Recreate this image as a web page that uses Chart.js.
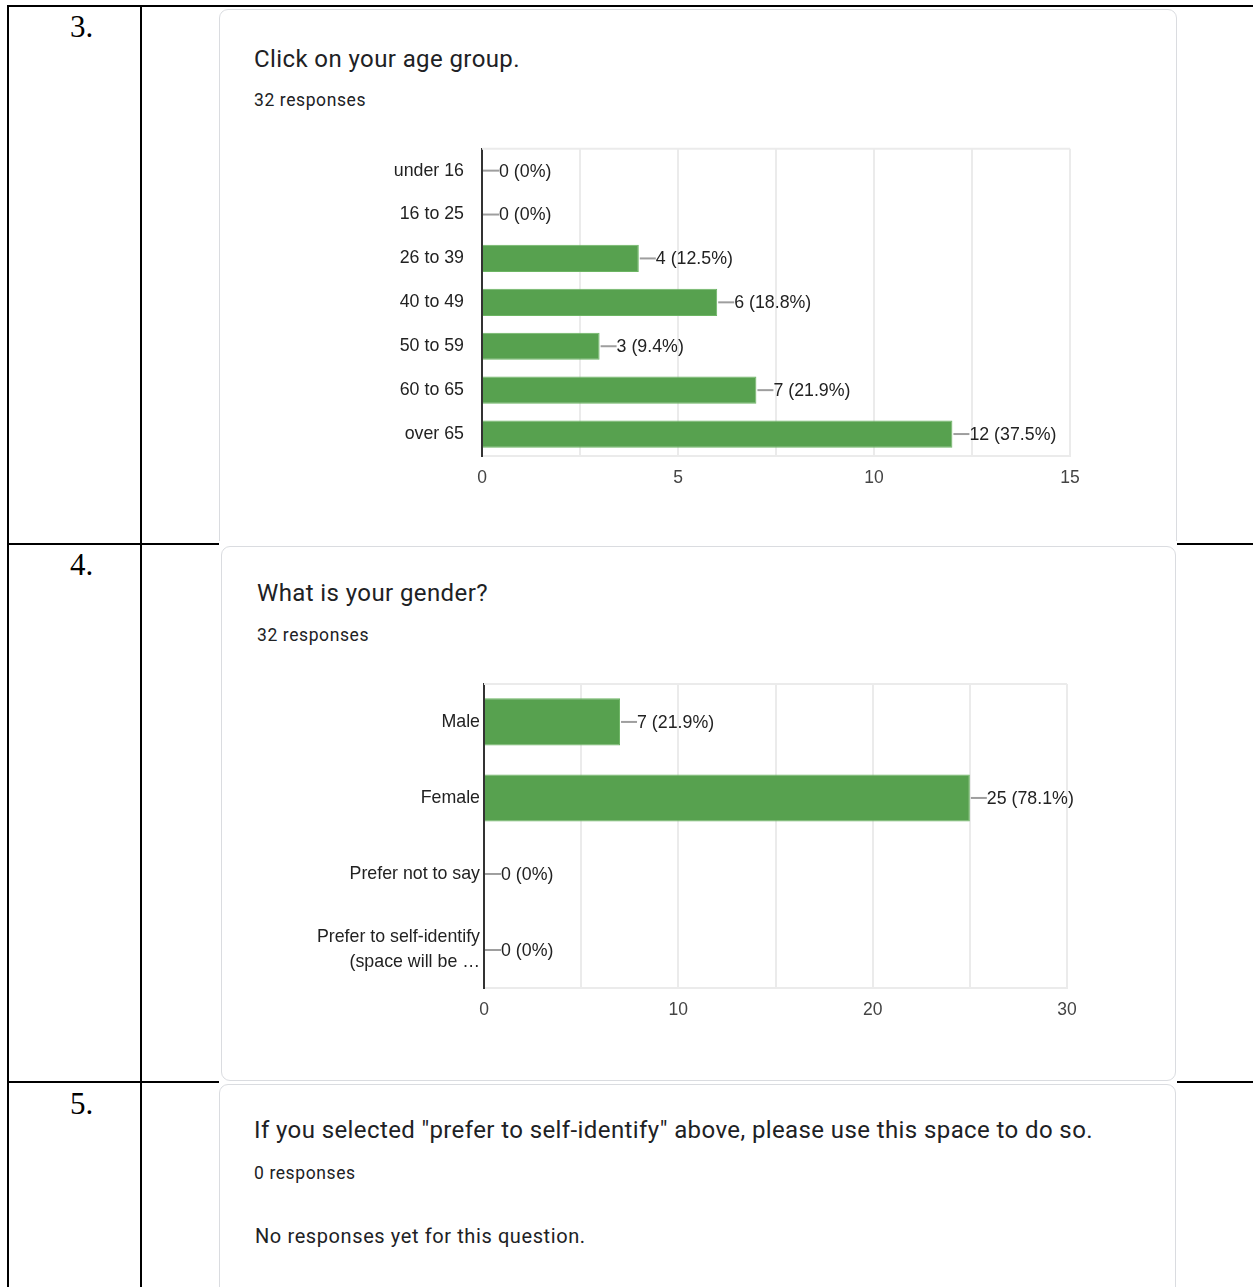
<!DOCTYPE html>
<html>
<head>
<meta charset="utf-8">
<script src="https://cdn.jsdelivr.net/npm/chart.js@4.4.1/dist/chart.umd.min.js"></script>
<style>
  html, body { margin: 0; padding: 0; background: #fff; }
  body { width: 1253px; height: 1287px; position: relative; overflow: hidden; font-family: Roboto, "Liberation Sans", Arial, sans-serif; }
  .rule { position: absolute; background: #000; }
  .num { position: absolute; font-family: "Liberation Serif", "Times New Roman", serif; font-size: 31px; line-height: 36px; color: #000; }
  .cover { position: absolute; background: #fff; overflow: hidden; }
  .card { position: absolute; border: 1px solid #dadce0; border-radius: 9px; background: #fff; box-sizing: border-box; }
  .title { position: absolute; font-size: 24px; line-height: 30px; color: #202124; white-space: nowrap; letter-spacing: 0.4px; }
  .resp { position: absolute; font-size: 17.5px; line-height: 20px; color: #202124; letter-spacing: 0.6px; white-space: nowrap; }
  .none { position: absolute; font-size: 20px; line-height: 24px; color: #202124; letter-spacing: 0.6px; white-space: nowrap; }
  .chartbox { position: absolute; width: 800px; }
</style>
</head>
<body>
<!-- table rules -->
<div class="rule" style="left:7px;top:5px;width:1246px;height:2px"></div>
<div class="rule" style="left:7px;top:543px;width:1246px;height:2px"></div>
<div class="rule" style="left:7px;top:1081px;width:1246px;height:2px"></div>
<div class="rule" style="left:7px;top:5px;width:2px;height:1282px"></div>
<div class="rule" style="left:140px;top:5px;width:2px;height:1282px"></div>

<div class="num" style="left:70px;top:9px">3.</div>
<div class="num" style="left:70px;top:547px">4.</div>
<div class="num" style="left:70px;top:1086px">5.</div>

<!-- card: age group -->
<div class="cover" style="left:219px;top:7px;width:958px;height:534px">
  <div class="card" style="left:0;top:2px;width:958px;height:700px"></div>
</div>
<div class="title" style="left:254px;top:44px">Click on your age group.</div>
<div class="resp" style="left:254px;top:90px">32 responses</div>
<div class="chartbox" style="left:300px;top:120px;height:380px"><canvas id="ageChart"></canvas></div>

<!-- card: gender -->
<div class="cover" style="left:219px;top:541px;width:958px;height:542px">
  <div class="card" style="left:2px;top:5px;width:955px;height:535px"></div>
</div>
<div class="title" style="left:257px;top:578px">What is your gender?</div>
<div class="resp" style="left:257px;top:625px">32 responses</div>
<div class="chartbox" style="left:300px;top:655px;height:381px"><canvas id="genderChart"></canvas></div>

<!-- card: self-identify -->
<div class="cover" style="left:219px;top:1083px;width:958px;height:204px">
  <div class="card" style="left:0;top:1px;width:957px;height:300px"></div>
</div>
<div class="title" style="left:254px;top:1115px">If you selected "prefer to self-identify" above, please use this space to do so.</div>
<div class="resp" style="left:254px;top:1163px">0 responses</div>
<div class="none" style="left:255px;top:1224px">No responses yet for this question.</div>

<script>
// Age group question
const ageLabels = ['under 16', '16 to 25', '26 to 39', '40 to 49', '50 to 59', '60 to 65', 'over 65'];
const ageCounts = [0, 0, 4, 6, 3, 7, 12];
const ageTotal = 32;
const ageMax = 15;
const ageStep = 2.5;
const ageTickEvery = 5;

// Gender question
const genderLabels = ['Male', 'Female', 'Prefer not to say', ['Prefer to self-identify', '(space will be \u2026']];
const genderCounts = [7, 25, 0, 0];
const genderTotal = 32;
const genderMax = 30;
const genderStep = 5;
const genderTickEvery = 10;

const GREEN = '#57a14f';
const LABEL_FONT = '"Liberation Sans", Arial, sans-serif';

function pctText(v, total) {
  const p = Math.round(v / total * 1000) / 10;
  return v + ' (' + p + '%)';
}

// Value callouts: a short leader line from the bar end followed by "n (p%)"
const calloutPlugin = {
  id: 'callouts',
  afterDatasetsDraw(chart, args, opts) {
    const ctx = chart.ctx;
    const meta = chart.getDatasetMeta(0);
    const values = chart.data.datasets[0].data;
    ctx.save();
    meta.data.forEach((bar, i) => {
      const x = bar.x, y = bar.y;
      ctx.strokeStyle = '#9e9e9e';
      ctx.lineWidth = 2;
      ctx.beginPath();
      ctx.moveTo(x + 1, y);
      ctx.lineTo(x + 17, y);
      ctx.stroke();
      ctx.fillStyle = '#222';
      ctx.font = '17.8px ' + LABEL_FONT;
      ctx.textAlign = 'left';
      ctx.textBaseline = 'middle';
      ctx.fillText(pctText(values[i], opts.total), x + 17, y + 1);
    });
    ctx.restore();
  }
};

// Light frame line along the top of the plot area
const topFramePlugin = {
  id: 'topFrame',
  beforeDatasetsDraw(chart) {
    const a = chart.chartArea, ctx = chart.ctx;
    ctx.save();
    ctx.strokeStyle = '#ebebeb';
    ctx.lineWidth = 2;
    ctx.beginPath();
    ctx.moveTo(a.left, a.top);
    ctx.lineTo(a.right, a.top);
    ctx.stroke();
    ctx.restore();
  }
};

function makeChart(id, labels, counts, total, max, step, tickEvery, yWidth, yPad, lineHeight, padding) {
  return new Chart(document.getElementById(id), {
    type: 'bar',
    data: {
      labels: labels,
      datasets: [{
        data: counts,
        backgroundColor: GREEN,
        borderColor: '#6cb563',
        borderWidth: 1,
        borderSkipped: 'start',
        barPercentage: 0.62,
        categoryPercentage: 1
      }]
    },
    options: {
      indexAxis: 'y',
      responsive: true,
      maintainAspectRatio: false,
      animation: false,
      layout: { padding: padding },
      plugins: {
        legend: { display: false },
        tooltip: { enabled: false },
        callouts: { total: total }
      },
      scales: {
        x: {
          min: 0,
          max: max,
          grid: {
            drawTicks: false,
            color: (c) => (c.tick && c.tick.value === 0) ? 'rgba(0,0,0,0)' : '#ebebeb',
            lineWidth: 2
          },
          border: { display: true, color: '#ebebeb', width: 2 },
          ticks: {
            stepSize: step,
            autoSkip: false,
            maxRotation: 0,
            padding: 12,
            color: '#444',
            font: { family: LABEL_FONT, size: 17.5 },
            callback: (v) => (v % tickEvery === 0 ? String(v) : '')
          },
          afterFit: (s) => { s.height = 44; }
        },
        y: {
          grid: { display: false, drawTicks: false },
          border: { display: true, color: '#333', width: 2 },
          ticks: {
            padding: yPad,
            color: '#222',
            font: { family: LABEL_FONT, size: 17.8, lineHeight: lineHeight }
          },
          afterFit: (s) => { s.width = yWidth; }
        }
      }
    },
    plugins: [calloutPlugin, topFramePlugin]
  });
}

makeChart('ageChart', ageLabels, ageCounts, ageTotal, ageMax, ageStep, ageTickEvery,
  182, 18, 1.2, { top: 8, right: 30, bottom: 0, left: 0 });
makeChart('genderChart', genderLabels, genderCounts, genderTotal, genderMax, genderStep, genderTickEvery,
  184, 4, 1.4, { top: 8, right: 33, bottom: 4, left: 0 });
</script>
</body>
</html>
